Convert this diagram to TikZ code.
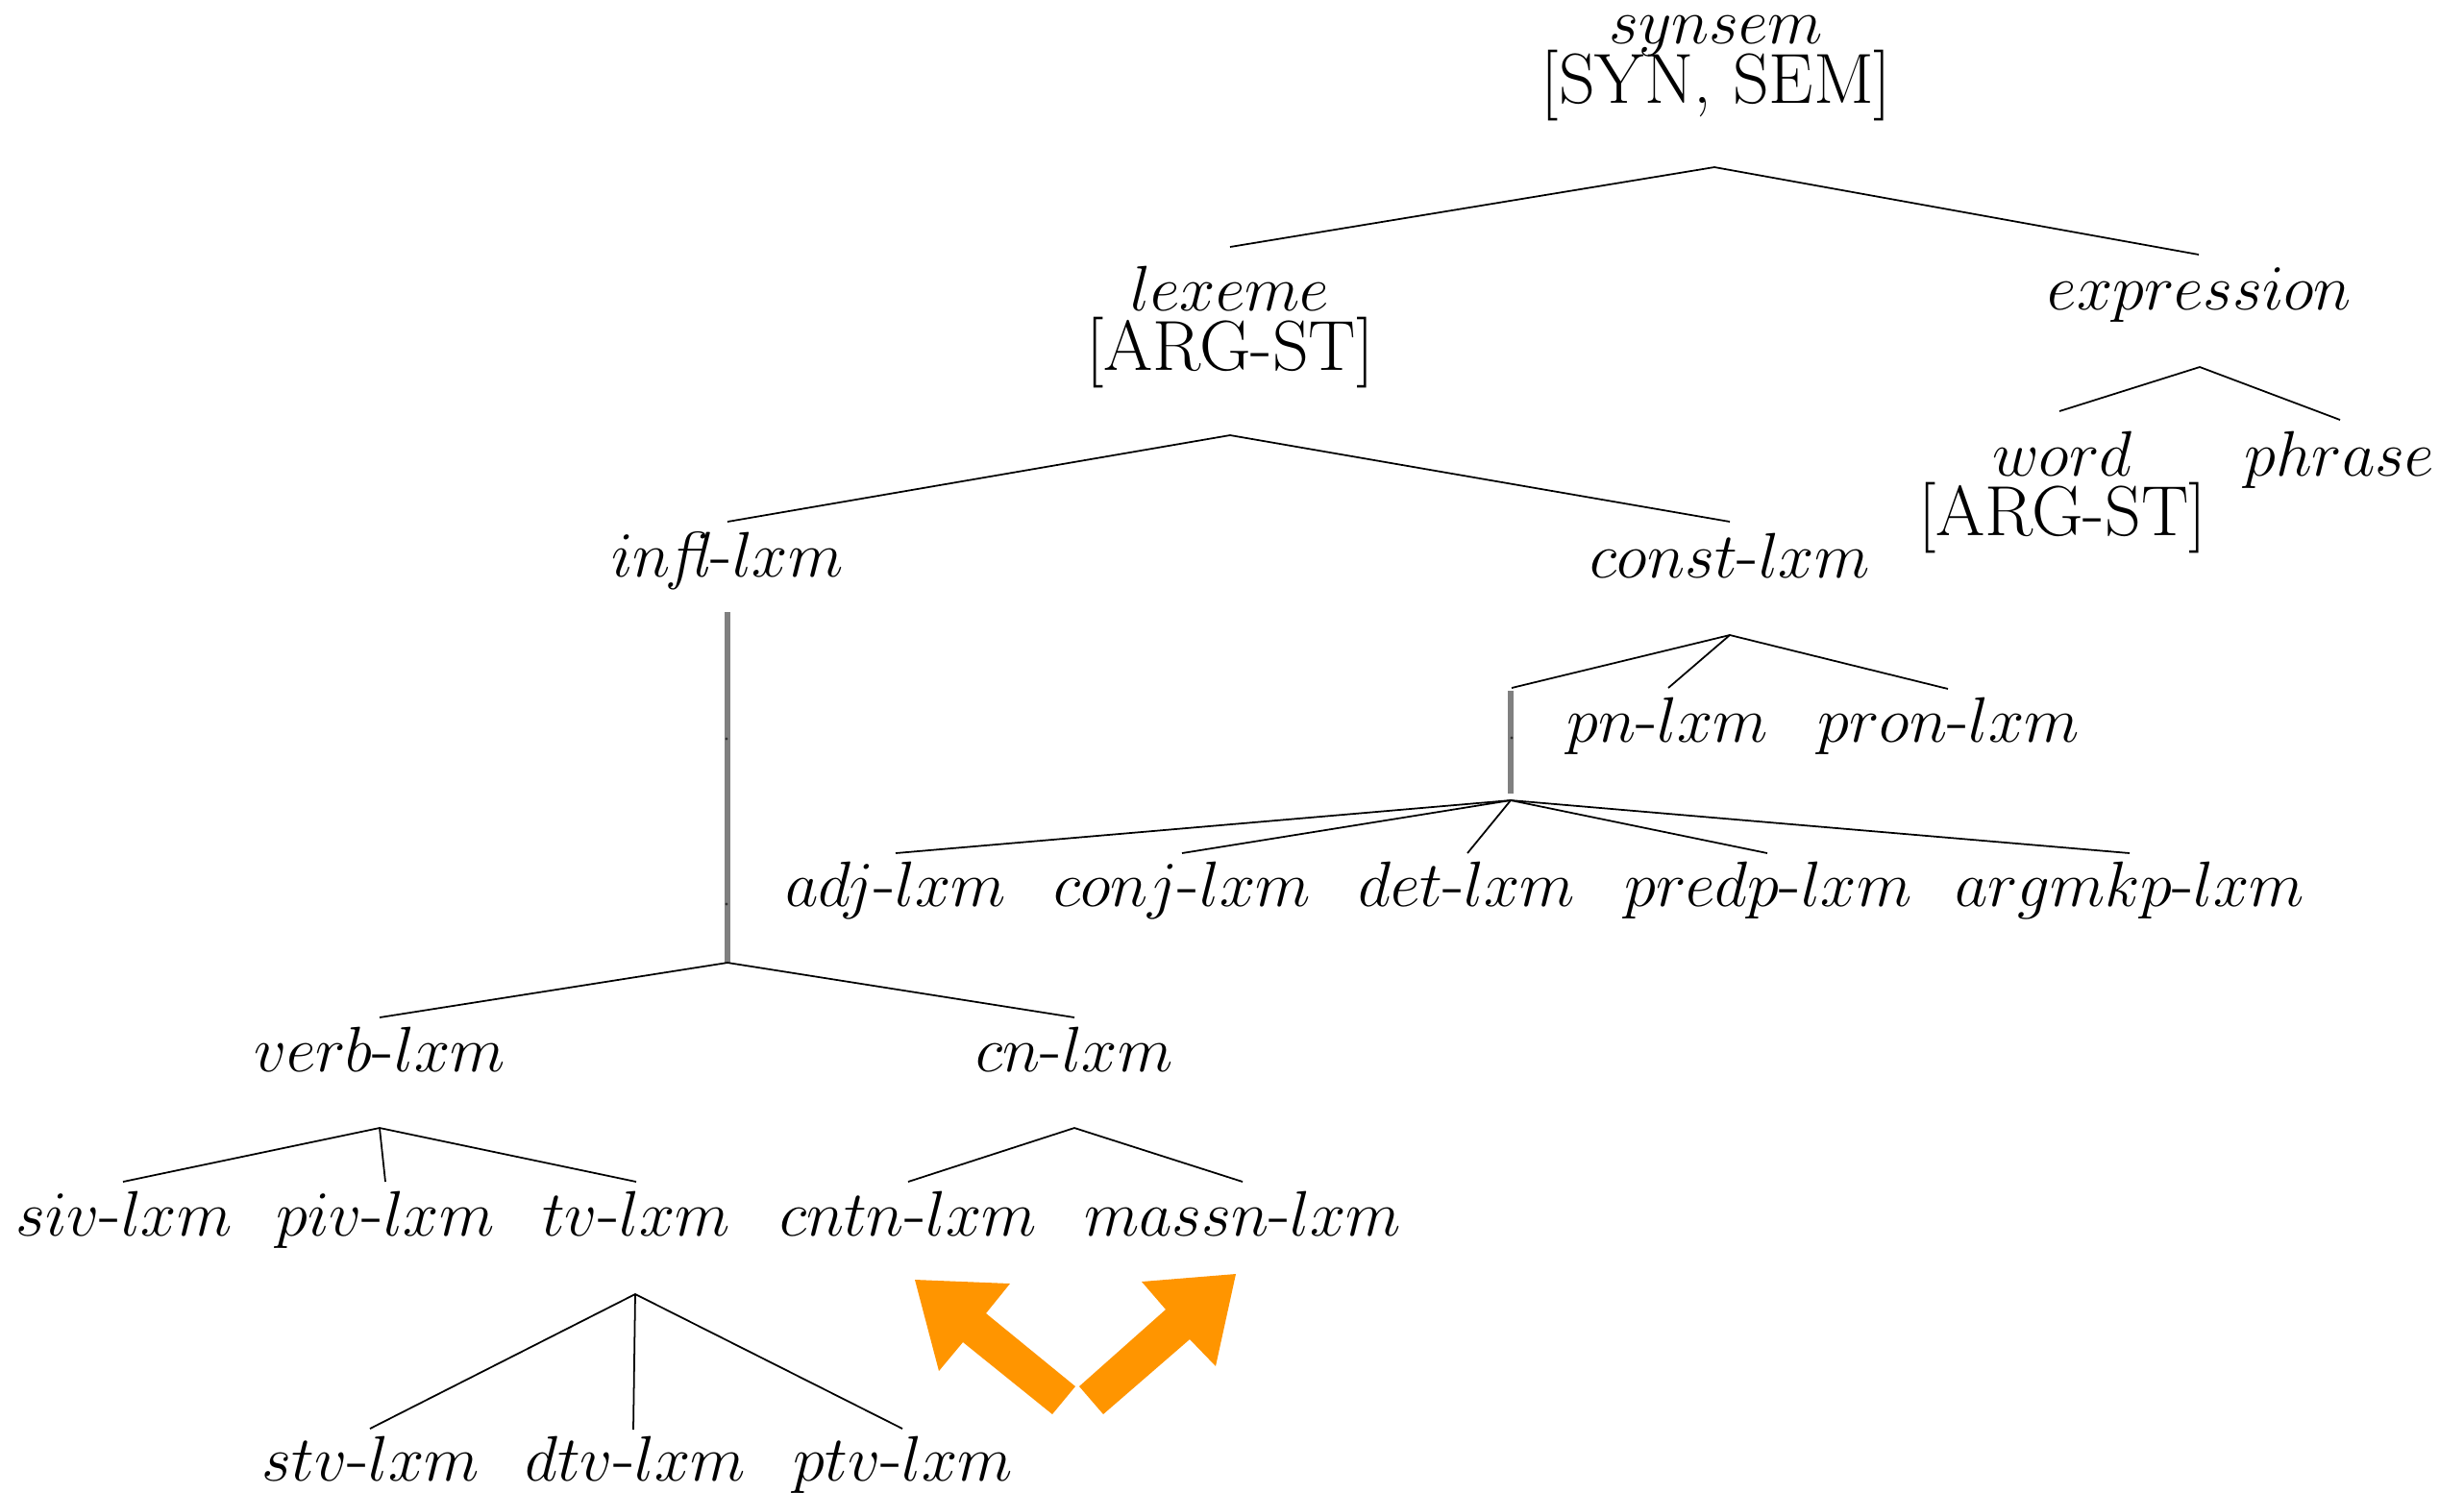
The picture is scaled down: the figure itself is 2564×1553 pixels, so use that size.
\RequirePackage{fix-cm}
\documentclass[tikz,border=0pt]{standalone}
\DeclareMathSizes{21}{19}{14}{10}
\definecolor{arrorange}{RGB}{255,149,0}
\tikzset{
  lbl/.style={inner sep=0pt, anchor=base, font=\fontsize{21}{18}\selectfont},
  edge/.style={line width=0.5pt, black},
  grayedge/.style={line width=1.5pt, color={rgb,255:red,128;green,128;blue,128}},
  bigarrow/.style={fill=arrorange, draw=none},
  tinydot/.style={fill=black!80, draw=none}
}
\newcommand{\lx}[1]{$#1$-$lxm$}
\newcommand{\twoline}[2]{\begin{tabular}[t]{@{}c@{}}#1\\[-3.4pt]#2\end{tabular}}
\begin{document}
\begin{tikzpicture}[x=0.01cm,y=-0.01cm]
\useasboundingbox (0,0) rectangle (2564,1553);
% ---- nodes ----
\node[lbl] (synsem) at (1786,45) {\twoline{$synsem$}{{[}SYN, SEM{]}}};
\node[lbl] (lexeme) at (1280,323) {\twoline{$lexeme$}{{[}ARG-ST{]}}};
\node[lbl] (expression) at (2289,322) {$expression$};
\node[lbl] (word) at (2146,495) {\twoline{$word$}{{[}ARG-ST{]}}};
\node[lbl] (phrase) at (2434,495) {$phrase$};
\node[lbl] (infl) at (757,600) {$in$\textit{\fontsize{19}{18}\selectfont fl}-$lxm$};
\node[lbl] (const) at (1800,601) {\lx{const}};
\node[lbl] (pn) at (1735,772) {\lx{pn}};
\node[lbl] (pron) at (2028,772) {\lx{pron}};
\node[lbl] (adj) at (932,943) {\lx{adj}};
\node[lbl] (conj) at (1230,943) {\lx{conj}};
\node[lbl] (det) at (1526,943) {\lx{det}};
\node[lbl] (predp) at (1840,943) {\lx{predp}};
\node[lbl] (argmkp) at (2216,943) {\lx{argmkp}};
\node[lbl] (verb) at (395,1115) {\lx{verb}};
\node[lbl] (cn) at (1118,1115) {\lx{cn}};
\node[lbl] (siv) at (129,1286) {\lx{siv}};
\node[lbl] (piv) at (401,1286) {\lx{piv}};
\node[lbl] (tv) at (662,1286) {\lx{tv}};
\node[lbl] (cntn) at (945,1286) {\lx{cntn}};
\node[lbl] (massn) at (1293,1286) {\lx{massn}};
\node[lbl] (stv) at (386,1541) {\lx{stv}};
\node[lbl] (dtv) at (661,1541) {\lx{dtv}};
\node[lbl] (ptv) at (940,1541) {\lx{ptv}};
% ---- apex and end coordinates ----
\coordinate (synsem-a) at (1784,174);
\coordinate (lexeme-t) at (1280,257);
\coordinate (expression-t) at (2288,265);
\coordinate (lexeme-a) at (1280,453);
\coordinate (infl-t) at (757,543);
\coordinate (const-t) at (1800,543);
\coordinate (expression-a) at (2289,382);
\coordinate (word-t) at (2143,428);
\coordinate (phrase-t) at (2435,437);
\coordinate (const-a) at (1800,661);
\coordinate (cmid-t) at (1573,716);
\coordinate (pn-t) at (1736,716);
\coordinate (pron-t) at (2027,717);
\coordinate (cmid-top) at (1572,719);
\coordinate (cmid-bot) at (1572,826);
\coordinate (cmid-a) at (1572,833);
\coordinate (adj-t) at (932,888);
\coordinate (conj-t) at (1230,888);
\coordinate (det-t) at (1527,888);
\coordinate (predp-t) at (1839,888);
\coordinate (argmkp-t) at (2216,888);
\coordinate (infl-top) at (757,637);
\coordinate (infl-a) at (757,1002);
\coordinate (verb-t) at (395,1059);
\coordinate (cn-t) at (1118,1059);
\coordinate (verb-a) at (395,1174);
\coordinate (siv-t) at (128,1230);
\coordinate (piv-t) at (401,1230);
\coordinate (tv-t) at (662,1230);
\coordinate (cn-a) at (1118,1174);
\coordinate (cntn-t) at (945,1230);
\coordinate (massn-t) at (1293,1230);
\coordinate (tv-a) at (661,1347);
\coordinate (stv-t) at (385,1487);
\coordinate (dtv-t) at (659,1488);
\coordinate (ptv-t) at (939,1487);
% ---- connectors ----
\draw[edge] (lexeme-t) -- (synsem-a) -- (expression-t);
\draw[edge] (infl-t) -- (lexeme-a) -- (const-t);
\draw[edge] (word-t) -- (expression-a) -- (phrase-t);
\draw[edge] (cmid-t) -- (const-a) -- (pron-t);
\draw[edge] (const-a) -- (pn-t);
\draw[grayedge] (cmid-top) -- (cmid-bot);
\draw[edge] (adj-t) -- (cmid-a) -- (argmkp-t);
\draw[edge] (conj-t) -- (cmid-a) -- (predp-t);
\draw[edge] (cmid-a) -- (det-t);
\draw[grayedge] (infl-top) -- (infl-a);
\draw[edge] (verb-t) -- (infl-a) -- (cn-t);
\draw[edge] (siv-t) -- (verb-a) -- (tv-t);
\draw[edge] (verb-a) -- (piv-t);
\draw[edge] (cntn-t) -- (cn-a) -- (massn-t);
\draw[edge] (stv-t) -- (tv-a) -- (ptv-t);
\draw[edge] (tv-a) -- (dtv-t);
% tiny marks of the empty levels on the grey lines
\fill[tinydot] (756,769) circle (1.6);
\fill[tinydot] (756,941) circle (1.6);
\fill[tinydot] (1573,768) circle (1.6);
% ---- orange arrows ----
\fill[bigarrow] (952,1332) -- (1051,1336) -- (1026,1367) -- (1119,1443)
  -- (1095,1472) -- (1002,1397) -- (977,1427) -- cycle;
\fill[bigarrow] (1286,1326) -- (1265,1422) -- (1238,1394) -- (1148,1472)
  -- (1123,1443) -- (1213,1363) -- (1188,1334) -- cycle;
\end{tikzpicture}
\end{document}
